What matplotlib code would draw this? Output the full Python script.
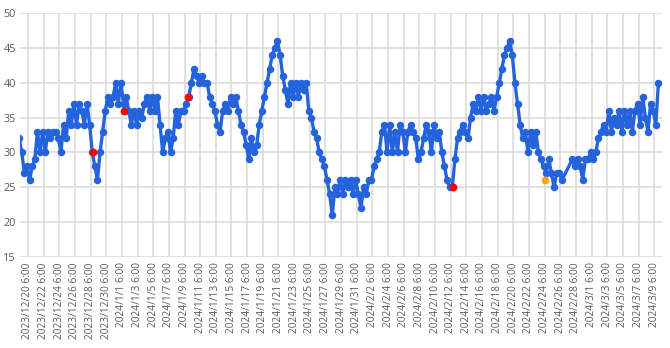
import numpy as np
import pandas as pd
import matplotlib
matplotlib.use("Agg")
import matplotlib.pyplot as plt

# ---- data ----
series_start = "2023-12-19 03:00"
step_hours = 8
values = [
    32, 30, 27,
    28, 26, 28, 29, 33, 30,
    33, 30, 33, 32, 33, 33,
    32, 30, 34, 32, 36, 34,
    37, 34, 37, 36, 34, 37,
    34, 30, 28, 26, 30, 33,
    36, 38, 37, 38, 40, 37,
    40, 37, 38, 36, 34, 36,
    34, 36, 35, 37, 38, 36,
    38, 36, 38, 34, 30, 32,
    33, 30, 32, 36, 34, 36,
    36, 37, 38, 40, 42, 41,
    40, 41, 40, 40, 38, 37,
    36, 34, 33, 36, 37, 36,
    38, 37, 38, 36, 34, 33,
    31, 29, 32, 30, 31, 34,
    36, 38, 40, 42, 44, 45,
    46, 44, 41, 39, 37, 40,
    38, 40, 38, 40, 39, 40,
    36, 35, 33, 32, 30, 29,
    28, 26, 24, 21, 25, 24,
    26, 24, 26, 25, 26, 24,
    26, 24, 22, 25, 24, 26,
    26, 28, 29, 30, 33, 34,
    30, 34, 30, 33, 30, 34,
    33, 30, 33, 34, 33, 32,
    29, 30, 32, 34, 33, 30,
    34, 32, 33, 30, 28, 26,
    25, 25, 29, 32, 33, 34,
    33, 32, 35, 37, 36, 38,
    36, 38, 36, 37, 38, 36,
    38, 40, 42, 44, 45, 46,
    44, 40, 37, 34, 32, 33,
    30, 33, 31, 33, 30, 29,
    28, 27, 29, 27, 25, 27,
    27, 26, None, None, None, 29,
    28, 29, 28, 26, 29, 29,
    30, 29, 30, 32, 33, 34,
    33, 36, 33, 35, 34, 36,
    33, 36, 34, 36, 33, 36,
    37, 34, 38, 35, 33, 37,
    36, 34, 40,
]
red_times = ["2023-12-28 14:00", "2024-01-01 12:00", "2024-01-09 17:00", "2024-02-12 13:00"]
red_values = [30, 36, 38, 25]
orange_times = ["2024-02-24 08:00"]
orange_values = [26]
tick_start = "2023-12-20 06:00"
tick_count = 41
tick_step = "2D"
y_ticks = [15, 20, 25, 30, 35, 40, 45, 50]

# ---- plot ----
times = pd.date_range(series_start, periods=len(values), freq=f"{step_hours}h")
vals = np.array([np.nan if v is None else v for v in values], dtype=float)
mask = ~np.isnan(vals)

W, H = 670, 348
fig = plt.figure(figsize=(W / 100, H / 100), dpi=100)
left, right, top, bottom = 20, 662, 13.3, 256.7
ax = fig.add_axes([left / W, (H - bottom) / H, (right - left) / W, (bottom - top) / H])

blue = "#2563dc"
ax.plot(times[mask], vals[mask], color=blue, lw=2.4, marker="o", ms=5.4,
        markeredgewidth=0, zorder=3)
ax.plot(pd.to_datetime(red_times), red_values, linestyle="none", marker="o",
        ms=5.6, color="#ff0000", markeredgewidth=0, zorder=4)
ax.plot(pd.to_datetime(orange_times), orange_values, linestyle="none", marker="o",
        ms=5.6, color="#ffa500", markeredgewidth=0, zorder=4)

ticks = pd.date_range(tick_start, periods=tick_count, freq=tick_step)
ax.set_xticks(ticks)
ax.set_xticklabels([f"{t.year}/{t.month}/{t.day} {t.hour}:{t.minute:02d}" for t in ticks],
                   rotation=90, fontsize=7.3, color="#595959", family="Open Sans")
ax.set_xlim(pd.Timestamp(tick_start) - pd.Timedelta(days=1.02),
            pd.Timestamp(tick_start) + pd.Timedelta(days=81.0))
ax.set_ylim(min(y_ticks), max(y_ticks))
ax.set_yticks(y_ticks)
ax.set_yticklabels([str(v) for v in y_ticks], fontsize=7.8, color="#595959", family="Open Sans")
ax.tick_params(axis="both", length=0)
ax.tick_params(axis="x", pad=4)
ax.tick_params(axis="y", pad=3)
ax.grid(True, color="#d9d9d9", lw=1.1)
ax.set_axisbelow(True)
for s in ax.spines.values():
    s.set_visible(False)

fig.savefig("out.png", dpi=100)
